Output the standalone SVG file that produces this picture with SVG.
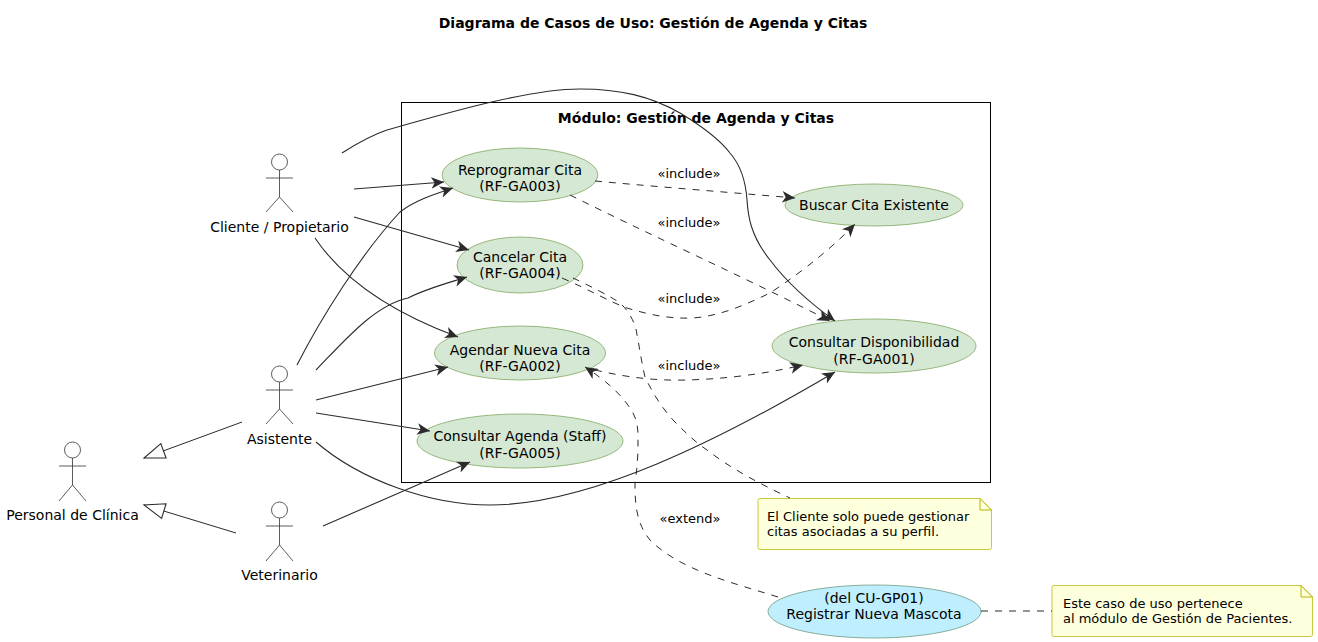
<svg xmlns="http://www.w3.org/2000/svg" width="1318" height="642" viewBox="0 0 1318 642">
<style>
text{font-family:"DejaVu Sans",sans-serif;font-size:14px;fill:#000}
.t{font-weight:bold;text-anchor:middle}
.c{text-anchor:middle}
.l{font-size:13px;text-anchor:middle}
.n{font-size:13px}
.uc{fill:#D5E8D4;stroke:#82A860;stroke-width:.8}
.ext{fill:#BFEFFF;stroke:#6F9A80;stroke-width:.8}
.note{fill:#FEFFDD;stroke:#C9C940;stroke-width:1}
.fold{fill:#FEFFDD;stroke:#B5B500;stroke-width:1}
.a{fill:#fff;stroke:#333;stroke-width:.8}
.a2{fill:none;stroke:#333;stroke-width:.8}
.e{fill:none;stroke:#2b2b2b;stroke-width:1.1;marker-end:url(#arr)}
.d{fill:none;stroke:#2b2b2b;stroke-width:1;stroke-dasharray:7 7;marker-end:url(#arr)}
.dn{fill:none;stroke:#2b2b2b;stroke-width:1;stroke-dasharray:7 7}
.g{fill:none;stroke:#2b2b2b;stroke-width:1;marker-end:url(#tri)}
</style>
<defs>
<marker id="arr" markerUnits="userSpaceOnUse" markerWidth="14" markerHeight="14" refX="11" refY="6" orient="auto" viewBox="0 0 12 12"><path d="M0 1 L11 6 L0 11 L3 6 Z" fill="#2b2b2b"/></marker>
<marker id="tri" markerUnits="userSpaceOnUse" markerWidth="24" markerHeight="20" refX="20" refY="9" orient="auto" viewBox="0 0 22 18"><path d="M1 2 L20 9 L1 16 Z" fill="#fff" stroke="#2b2b2b" stroke-width="1"/></marker>
</defs>
<text class="t" x="653" y="28">Diagrama de Casos de Uso: Gestión de Agenda y Citas</text>
<g id="modulo"><rect x="401.500" y="102.500" width="589" height="380" fill="none" stroke="#000" stroke-width="1"/><text class="t" x="696" y="123">Módulo: Gestión de Agenda y Citas</text></g>
<g id="uc-reprogramar"><ellipse class="uc" cx="520" cy="175" rx="78" ry="27"/><text class="c" x="520" y="175">Reprogramar Cita</text><text class="c" x="520" y="191">(RF-GA003)</text></g>
<g id="uc-cancelar"><ellipse class="uc" cx="520" cy="265" rx="63" ry="28"/><text class="c" x="520" y="262">Cancelar Cita</text><text class="c" x="520" y="278">(RF-GA004)</text></g>
<g id="uc-agendar"><ellipse class="uc" cx="520" cy="353" rx="85.500" ry="27"/><text class="c" x="520" y="355">Agendar Nueva Cita</text><text class="c" x="520" y="371">(RF-GA002)</text></g>
<g id="uc-agenda"><ellipse class="uc" cx="520" cy="441" rx="103" ry="27"/><text class="c" x="520" y="441">Consultar Agenda (Staff)</text><text class="c" x="520" y="458">(RF-GA005)</text></g>
<g id="uc-buscar"><ellipse class="uc" cx="874" cy="205" rx="89" ry="21"/><text class="c" x="874" y="210">Buscar Cita Existente</text></g>
<g id="uc-disponibilidad"><ellipse class="uc" cx="874" cy="346" rx="102" ry="27"/><text class="c" x="874" y="347">Consultar Disponibilidad</text><text class="c" x="874" y="364">(RF-GA001)</text></g>
<g id="uc-mascota"><ellipse class="ext" cx="874.500" cy="611.500" rx="106.500" ry="26.500"/><text class="c" x="874" y="603">(del CU-GP01)</text><text class="c" x="874" y="619">Registrar Nueva Mascota</text></g>
<g id="nota-cliente"><path class="note" d="M760 498.500H980L991.500 510V547.500Q991.500 549.500 989.500 549.500H760Q758 549.500 758 547.500V500.500Q758 498.500 760 498.500Z"/><path class="fold" d="M980 498.500V510H991.500Z"/><text class="n" x="767" y="521">El Cliente solo puede gestionar</text><text class="n" x="767" y="536">citas asociadas a su perfil.</text></g>
<g id="nota-mascota"><path class="note" d="M1054 585.500H1301L1312.500 597V634.500Q1312.500 636.500 1310.500 636.500H1054Q1052 636.500 1052 634.500V587.500Q1052 585.500 1054 585.500Z"/><path class="fold" d="M1301 585.500V597H1312.500Z"/><text class="n" x="1063" y="608">Este caso de uso pertenece</text><text class="n" x="1063" y="623">al módulo de Gestión de Pacientes.</text></g>
<g id="actor-cliente"><circle class="a" cx="279.500" cy="162" r="8"/><path class="a2" d="M279.500 170V197M266 178H293M266 212L279.500 197L293 212"/><text class="c" x="279.500" y="232">Cliente / Propietario</text></g>
<g id="actor-asistente"><circle class="a" cx="279.500" cy="374" r="8"/><path class="a2" d="M279.500 382V409M266 390H293M266 424L279.500 409L293 424"/><text class="c" x="279.500" y="444">Asistente</text></g>
<g id="actor-veterinario"><circle class="a" cx="279.500" cy="510" r="8"/><path class="a2" d="M279.500 518V545M266 526H293M266 561L279.500 545L293 561"/><text class="c" x="279.500" y="580">Veterinario</text></g>
<g id="actor-personal"><circle class="a" cx="72.500" cy="450" r="8"/><path class="a2" d="M72.500 458V485M59 466H86M59 501L72.500 485L86 501"/><text class="c" x="72.500" y="520">Personal de Clínica</text></g>
<g id="connectors">
<path class="e" d="M342 153C356 144 372 135 387 130C450 112 530 89 580 89C620 89 650 96 680 113C700 125 720 140 730 153C743 168 746 185 747 200C748 215 750 235 770 260C785 280 810 303 835 321"/>
<path class="e" d="M354 189L444 182"/>
<path class="e" d="M354 217L469 250"/>
<path class="e" d="M315 238C340 275 385 310 458 337"/>
<path class="e" d="M297 365C320 320 360 255 400 212C415 200 435 194 453 188"/>
<path class="e" d="M316 370C345 340 375 305 408 298C428 288 448 283 467 277"/>
<path class="e" d="M316 400L448 367"/>
<path class="e" d="M316 413L430 431"/>
<path class="e" d="M316 442C360 480 430 505 490 505C590 505 720 440 835 372"/>
<path class="e" d="M323 526L470 462"/>
<path class="g" d="M242 422L144 458"/>
<path class="g" d="M236 533L144 505"/>
<path class="d" d="M595 181C660 187 725 192 795 198"/>
<path class="d" d="M570 195C650 235 740 275 830 321"/>
<path class="d" d="M562 278C590 290 610 302 627 308C650 315 670 319 693 318C720 316 745 305 770 293C805 270 835 245 855 224"/>
<path class="dn" d="M573 278C590 286 610 296 620 303C630 312 636 325 637 335C640 350 642 365 645 377C652 392 662 408 673 420C685 432 695 442 707 450C730 468 760 484 790 498"/>
<path class="d" d="M595 370C625 377 655 381 687 380C725 379 765 374 803 365"/>
<path class="d" d="M778 597C730 582 680 570 650 540C635 522 635 500 635 482C638 465 638 450 638 437C638 425 636 419 633 413C623 395 605 380 585 367"/>
<path class="dn" d="M981 611H1052"/>
<text class="l" x="689" y="178">«include»</text>
<text class="l" x="689" y="227">«include»</text>
<text class="l" x="689" y="303">«include»</text>
<text class="l" x="689" y="370">«include»</text>
<text class="l" x="690" y="523">«extend»</text>
</g>
</svg>
